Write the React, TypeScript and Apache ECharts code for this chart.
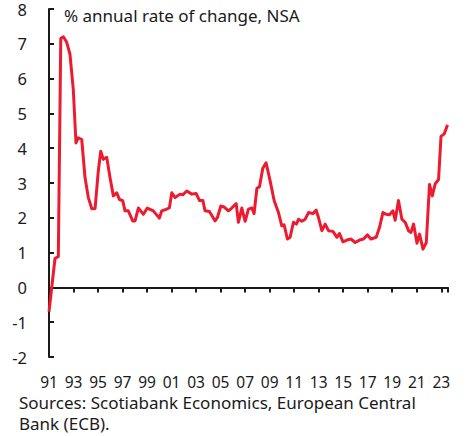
import React, { useEffect, useRef } from "react";
import * as echarts from "echarts";

// Decimal years of each observation
const years: number[] = [
  1991.0, 1991.49, 1991.76, 1991.96, 1992.17, 1992.44, 1992.71, 1992.98,
  1993.2, 1993.39, 1993.67, 1993.94, 1994.21, 1994.49, 1994.76, 1995.02,
  1995.22, 1995.43, 1995.71, 1995.98, 1996.25, 1996.53, 1996.74, 1997.02,
  1997.2, 1997.47, 1997.83, 1998.02, 1998.29, 1998.7, 1999.02, 1999.51,
  2000.0, 2000.2, 2000.61, 2000.82, 2001.02, 2001.29, 2001.69, 2001.91,
  2002.24, 2002.65, 2003.0, 2003.27, 2003.55, 2003.73, 2004.09, 2004.55,
  2004.74, 2005.02, 2005.29, 2005.64, 2005.91, 2006.27, 2006.45, 2006.73,
  2007.0, 2007.27, 2007.55, 2007.73, 2007.96, 2008.17, 2008.44, 2008.71,
  2009.04, 2009.37, 2009.72, 2009.99, 2010.18, 2010.45, 2010.67, 2010.94,
  2011.19, 2011.35, 2011.63, 2011.9, 2012.17, 2012.53, 2012.8, 2012.98,
  2013.26, 2013.53, 2013.8, 2014.16, 2014.49, 2014.7, 2014.98, 2015.3,
  2015.63, 2015.98, 2016.33, 2016.66, 2016.98, 2017.26, 2017.69, 2017.96,
  2018.24, 2018.51, 2018.78, 2019.06, 2019.24, 2019.51, 2019.79, 2020.06,
  2020.33, 2020.53, 2020.74, 2021.02, 2021.23, 2021.51, 2021.78, 2022.04,
  2022.27, 2022.51, 2022.78, 2022.98, 2023.24, 2023.51,
];

// Annual rate of change, %
const rates: number[] = [
  -0.7, 0.83, 0.89, 7.15, 7.2, 7.05, 6.7, 5.7,
  4.15, 4.3, 4.25, 3.15, 2.58, 2.26, 2.27, 3.34,
  3.91, 3.68, 3.74, 3.15, 2.63, 2.72, 2.53, 2.49,
  2.2, 2.2, 1.91, 1.91, 2.28, 2.1, 2.28, 2.2,
  1.99, 2.2, 2.25, 2.29, 2.72, 2.58, 2.68, 2.66,
  2.77, 2.68, 2.7, 2.5, 2.5, 2.2, 2.18, 1.91,
  2.01, 2.34, 2.31, 2.2, 2.28, 2.41, 1.87, 2.28,
  1.9, 2.25, 2.28, 2.12, 2.85, 2.89, 3.42, 3.58,
  3.06, 2.49, 2.15, 1.77, 1.8, 1.39, 1.44, 1.87,
  1.82, 1.96, 1.9, 1.96, 2.15, 2.12, 2.22, 2.01,
  1.63, 1.82, 1.63, 1.61, 1.44, 1.55, 1.31, 1.36,
  1.39, 1.29, 1.36, 1.39, 1.51, 1.39, 1.44, 1.72,
  2.15, 2.1, 2.09, 2.2, 1.93, 2.5, 1.96, 1.87,
  1.63, 1.58, 1.82, 1.27, 1.53, 1.1, 1.29, 2.96,
  2.63, 2.98, 3.1, 4.34, 4.41, 4.67,
];

const baseYear = 1991;
const yearEnd = 2023.55;

const titleText = "% annual rate of change, NSA";
const sourceLines = [
  "Sources: Scotiabank Economics, European Central",
  "Bank (ECB).",
];

const FONT = "'Noto Sans', sans-serif";
const INK = "#1a1a1a";
const RED = "#ED1B2F";

const yearLabel = (v: number) =>
  String((baseYear + Math.round(v)) % 100).padStart(2, "0");

export default function App() {
  const ref = useRef<HTMLDivElement>(null);

  useEffect(() => {
    document.body.style.margin = "0";
    if (!ref.current) return;
    const chart = echarts.init(ref.current, undefined, { renderer: "svg" });
    const span = yearEnd - baseYear;
    const data = years.map((y, i) => [y - baseYear, rates[i]]);

    chart.setOption({
      animation: false,
      backgroundColor: "#ffffff",
      textStyle: { fontFamily: FONT },
      grid: { left: 49, right: 18, top: 9, bottom: 79, containLabel: false },
      xAxis: [
        {
          type: "value",
          min: 0,
          max: span,
          interval: 2,
          axisLine: { onZero: true, lineStyle: { color: INK, width: 2 } },
          axisTick: { show: true, length: 5, inside: false, lineStyle: { color: INK, width: 2 } },
          axisLabel: { show: false },
          splitLine: { show: false },
        },
        {
          type: "value",
          min: 0,
          max: span,
          interval: 2,
          position: "bottom",
          axisLine: { show: false, onZero: false },
          axisTick: { show: false },
          splitLine: { show: false },
          axisLabel: {
            show: true,
            margin: 17,
            color: INK,
            fontSize: 15.5,
            lineHeight: 15,
            fontFamily: FONT,
            formatter: yearLabel,
          },
        },
      ],
      yAxis: {
        type: "value",
        min: -2,
        max: 8,
        interval: 1,
        axisLine: { show: true, onZero: false, lineStyle: { color: INK, width: 2 } },
        axisTick: { show: true, inside: true, length: 5, lineStyle: { color: INK, width: 2 } },
        axisLabel: { color: INK, fontSize: 16.5, lineHeight: 14, fontFamily: FONT, margin: 22 },
        splitLine: { show: false },
      },
      series: [
        {
          type: "line",
          xAxisIndex: 0,
          data,
          showSymbol: false,
          symbol: "none",
          lineStyle: { color: RED, width: 3, join: "round" },
          z: 3,
        },
      ],
      graphic: [
        {
          type: "text",
          left: 64,
          top: 7,
          style: { text: titleText, fill: INK, font: `17px ${FONT}` },
        },
        {
          type: "text",
          left: 19,
          top: 392,
          style: {
            text: sourceLines.join("\n"),
            fill: INK,
            font: `17px ${FONT}`,
            lineHeight: 21,
          },
        },
      ],
    });

    return () => chart.dispose();
  }, []);

  return <div ref={ref} style={{ width: 466, height: 436 }} />;
}
